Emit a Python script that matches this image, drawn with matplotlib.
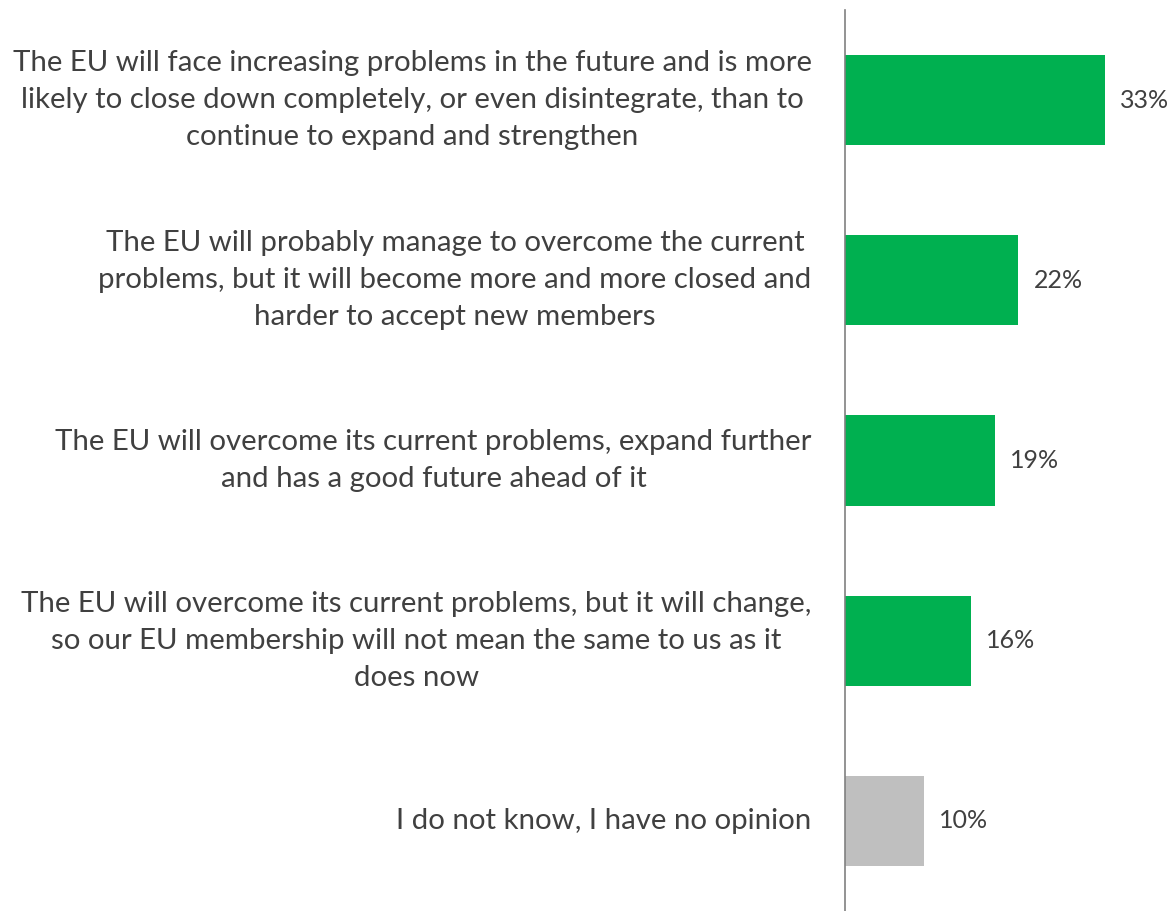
import matplotlib.pyplot as plt

plt.rcParams['font.family'] = ['Lato', 'DejaVu Sans']

labels = [
    "The EU will face increasing problems in the future and is more\nlikely to close down completely, or even disintegrate, than to\ncontinue to expand and strengthen",
    "The EU will probably manage to overcome the current\nproblems, but it will become more and more closed and\nharder to accept new members",
    "The EU will overcome its current problems, expand further\nand has a good future ahead of it",
    "The EU will overcome its current problems, but it will change,\nso our EU membership will not mean the same to us as it\ndoes now",
    "I do not know, I have no opinion",
]
values = [33, 22, 19, 16, 10]
colors = ['#00B050', '#00B050', '#00B050', '#00B050', '#BFBFBF']

fig = plt.figure(figsize=(11.76, 9.11), dpi=100)
ax = fig.add_axes([845 / 1176, 0, 331 / 1176, 901 / 911])

pos = list(range(len(values)))
ax.barh(pos, values, height=0.5, color=colors)
ax.set_ylim(len(values) - 0.5, -0.5)
ax.set_xlim(0, 42)

for p, v, lab in zip(pos, values, labels):
    ax.annotate(f"{v}%", (v, p), xytext=(11, 0), textcoords='offset points',
                va='center', ha='left', fontsize=18, color='#404040')
    ax.annotate(lab, (0, p), xytext=(-24, 0), textcoords='offset points',
                va='center', ha='right', multialignment='center',
                fontsize=21.2, color='#404040', linespacing=1.52)

for s in ['top', 'right', 'bottom']:
    ax.spines[s].set_visible(False)
ax.spines['left'].set_color('#808080')
ax.spines['left'].set_linewidth(1.2)
ax.set_xticks([])
ax.set_yticks([])

fig.savefig('out.png', dpi=100)
